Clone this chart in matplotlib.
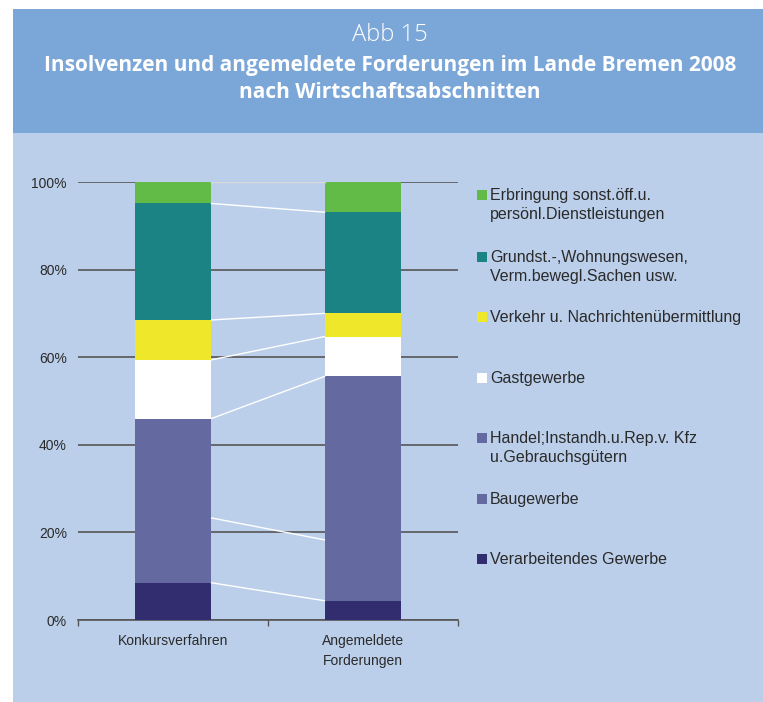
import matplotlib.pyplot as plt
import numpy as np
from matplotlib.patches import Rectangle

# data (shares in %, bottom to top)
categories = ['Konkursverfahren', 'Angemeldete\nForderungen']
series = ['Verarbeitendes Gewerbe', 'Baugewerbe',
          'Handel;Instandh.u.Rep.v. Kfz\nu.Gebrauchsgütern', 'Gastgewerbe',
          'Verkehr u. Nachrichtenübermittlung',
          'Grundst.-,Wohnungswesen,\nVerm.bewegl.Sachen usw.',
          'Erbringung sonst.öff.u.\npersönl.Dienstleistungen']
konkurs = [8.5, 14.8, 22.7, 13.4, 9.1, 26.6, 4.9]
forderungen = [4.4, 13.9, 37.3, 9.1, 5.3, 23.1, 6.9]
colors = ['#322d6e', '#6469a0', '#6469a0', '#ffffff', '#efe82a', '#1c8385', '#62bb46']
yticks = [0, 20, 40, 60, 80, 100]

W, H = 763, 702
fig = plt.figure(figsize=(W / 100, H / 100), dpi=100)
fig.patch.set_facecolor('white')
txt = '#2a2a2a'

# background panels
bg = fig.add_axes([0, 0, 1, 1])
bg.set_xlim(0, W)
bg.set_ylim(H, 0)
bg.axis('off')
bg.add_patch(Rectangle((13, 133), W - 13, H - 133, color='#bbcfea', lw=0))
bg.add_patch(Rectangle((13, 9), W - 13, 124, color='#7ba6d8', lw=0))
bg.text(390, 35, 'Abb 15', ha='center', va='center', color='white',
        fontsize=17, family='Open Sans', fontweight='light')
bg.text(390, 65, 'Insolvenzen und angemeldete Forderungen im Lande Bremen 2008',
        ha='center', va='center', color='white', fontsize=15, family='Open Sans',
        fontweight='bold')
bg.text(390, 93, 'nach Wirtschaftsabschnitten', ha='center', va='center',
        color='white', fontsize=15, family='Open Sans', fontweight='bold')

# main chart
ax = fig.add_axes([78 / W, (H - 620) / H, 380 / W, 438 / H])
ax.set_facecolor('none')
x = np.arange(len(categories))
bw = 0.405
data = np.array([konkurs, forderungen])
bottoms = np.zeros(2)
for i, col in enumerate(colors):
    ax.bar(x, data[:, i], bw, bottom=bottoms, color=col, zorder=3)
    tops = bottoms + data[:, i]
    lc = '#d8d8d8' if i == len(colors) - 1 else 'white'
    ax.plot([x[0] + bw / 2, x[1] - bw / 2], tops, color=lc, lw=1, zorder=3)
    bottoms = tops

ax.set_xlim(-0.5, 1.5)
ax.set_ylim(0, 100)
ax.set_yticks(yticks)
ax.set_yticklabels([f'{v}%' for v in yticks], family='Liberation Sans',
                   fontsize=10, color=txt)
ax.yaxis.grid(True, color='#555555', lw=1.2, zorder=0)
ax.tick_params(axis='y', length=0, pad=8)
ax.set_xticks([-0.5, 0.5, 1.5], minor=True)
ax.tick_params(axis='x', which='minor', length=4, color='#555555', width=1)
ax.set_xticks(x)
ax.set_xticklabels(categories, family='Liberation Sans', fontsize=10,
                   color=txt, linespacing=1.6)
ax.tick_params(axis='x', which='major', length=0, pad=10)
for s in ['top', 'right', 'left']:
    ax.spines[s].set_visible(False)
ax.spines['bottom'].set_color('#555555')
ax.spines['bottom'].set_linewidth(1.2)

# legend drawn by hand, top to bottom
leg_y = [195, 257, 317, 378, 438, 499, 559]
for yy, name, col in zip(leg_y, series[::-1], colors[::-1]):
    bg.add_patch(Rectangle((477, yy - 5), 10, 10, color=col, lw=0))
    bg.text(490, yy - 7, name, ha='left', va='top', fontsize=11.5,
            family='Liberation Sans', color=txt, linespacing=1.3)

fig.savefig('out.png', dpi=100, facecolor=fig.get_facecolor())
